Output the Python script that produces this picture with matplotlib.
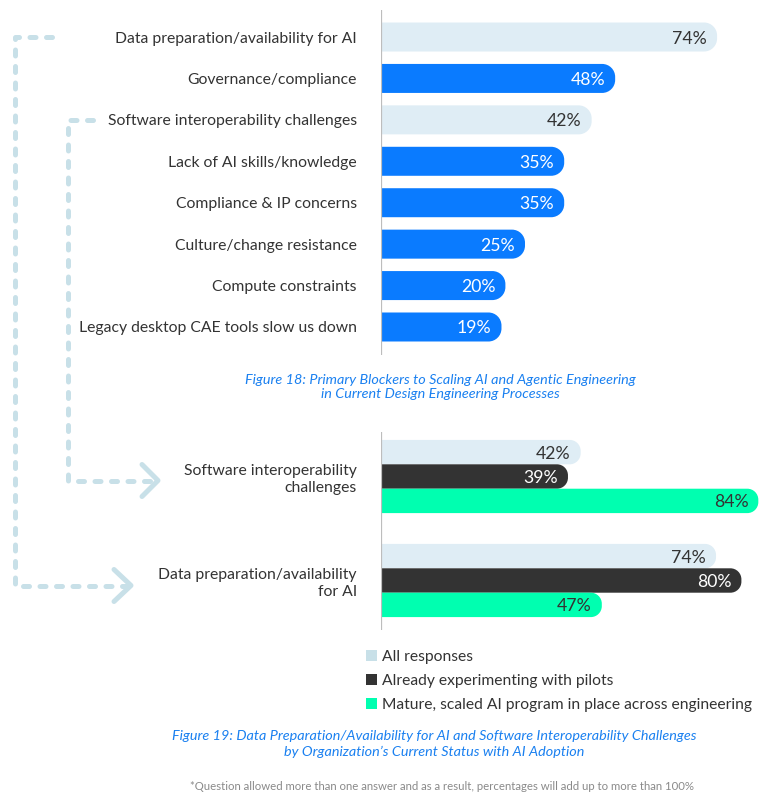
import matplotlib
matplotlib.use('Agg')
import matplotlib.pyplot as plt
from matplotlib.path import Path
from matplotlib.patches import PathPatch, Rectangle

plt.rcParams['font.family'] = ['Lato', 'DejaVu Sans']

# ---------------- data ----------------
blockers = ["Data preparation/availability for AI", "Governance/compliance",
            "Software interoperability challenges", "Lack of AI skills/knowledge",
            "Compliance & IP concerns", "Culture/change resistance",
            "Compute constraints", "Legacy desktop CAE tools slow us down"]
blocker_values = [74, 48, 42, 35, 35, 25, 20, 19]
highlighted = [True, False, True, False, False, False, False, False]

groups = ["Software interoperability\nchallenges", "Data preparation/availability\nfor AI"]
series_names = ["All responses", "Already experimenting with pilots",
                "Mature, scaled AI program in place across engineering"]
all_responses = [42, 74]
pilots = [39, 80]
mature = [84, 47]

# ---------------- style ----------------
LIGHT = '#DFEDF5'
BLUE = '#0A7BFF'
DARK = '#333333'
GREEN = '#00FFB0'
LEG_LIGHT = '#C8E0E8'
CONNECT = '#C8E0E8'
TXT = '#333333'
CAP_BLUE = '#1A80F0'

W, H = 784, 798
fig = plt.figure(figsize=(W / 100, H / 100), dpi=100)


def px_axes(left, top, right, bottom):
    return fig.add_axes([left / W, 1 - bottom / H, (right - left) / W, (bottom - top) / H])


def rounded_bar(ax, y, length, h, color, r_px=12, z=2):
    p0 = ax.transData.transform((0, 0))
    p1 = ax.transData.transform((1, 1))
    sx = abs(p1[0] - p0[0])
    sy = abs(p1[1] - p0[1])
    rx, ry = r_px / sx, r_px / sy
    k = 0.5523
    y0, y1 = y - h / 2, y + h / 2
    L = length
    verts = [(0, y0), (L - rx, y0),
             (L - rx + k * rx, y0), (L, y0 + ry - k * ry), (L, y0 + ry),
             (L, y1 - ry),
             (L, y1 - ry + k * ry), (L - rx + k * rx, y1), (L - rx, y1),
             (0, y1), (0, y0)]
    codes = [Path.MOVETO, Path.LINETO,
             Path.CURVE4, Path.CURVE4, Path.CURVE4,
             Path.LINETO,
             Path.CURVE4, Path.CURVE4, Path.CURVE4,
             Path.LINETO, Path.CLOSEPOLY]
    ax.add_patch(PathPatch(Path(verts, codes), facecolor=color, edgecolor='none', zorder=z))


def clean(ax):
    for s in ax.spines.values():
        s.set_visible(False)
    ax.set_xticks([])
    ax.tick_params(axis='y', length=0, pad=17.3, labelsize=11.3, labelcolor=TXT)
    ax.set_facecolor('none')


# ---------------- top chart ----------------
ax1 = px_axes(381, 10, 770, 355)
ax1.set_xlim(0, 389 / 3.92)
ax1.set_ylim(7.676, -0.652)
extra1 = 46 / 3.92
bh1 = 0.70
for i, (v, hl) in enumerate(zip(blocker_values, highlighted)):
    L = v + extra1
    rounded_bar(ax1, i, L, bh1, LIGHT if hl else BLUE, r_px=13)
    ax1.annotate(f"{v}%", xy=(L, i), xytext=(-10, 0), textcoords='offset pixels',
                 ha='right', va='center_baseline', fontsize=12.7,
                 color=TXT if hl else 'white', zorder=4)
ax1.set_yticks(range(len(blockers)))
ax1.set_yticklabels(blockers)
clean(ax1)
ax1.axvline(0, color='#BDBDBD', lw=1.6, zorder=5)

# ---------------- bottom chart ----------------
ax2 = px_axes(381, 432, 770, 630)
ax2.set_xlim(0, 389 / 4.23)
ax2.set_ylim(1.476, -0.428)
extra2 = 22 / 4.23
bh2 = 0.2346
series = [all_responses, pilots, mature]
colors = [LIGHT, DARK, GREEN]
tcolors = [TXT, 'white', TXT]
for s, (vals, c, tc) in enumerate(zip(series, colors, tcolors)):
    for g, v in enumerate(vals):
        y = g + (s - 1) * bh2
        L = v + extra2
        rounded_bar(ax2, y, L, bh2, c, r_px=11, z=2 + s)
        ax2.annotate(f"{v}%", xy=(L, y), xytext=(-10, 0), textcoords='offset pixels',
                     ha='right', va='center_baseline', fontsize=12.7, color=tc, zorder=6)
ax2.set_yticks(range(len(groups)))
ax2.set_yticklabels(groups, linespacing=1.25)
clean(ax2)
ax2.axvline(0, color='#BDBDBD', lw=1.6, zorder=7)

# ---------------- overlay: connectors, legend, captions ----------------
ov = fig.add_axes([0, 0, 1, 1], zorder=-1)
ov.set_xlim(0, W)
ov.set_ylim(H, 0)
ov.axis('off')
ov.set_facecolor('none')


def row_px(ax, yval):
    return H - ax.transData.transform((0, yval))[1]


dash_kw = dict(color=CONNECT, lw=3.6, linestyle=(0, (1.2, 2.1)),
               dash_capstyle='round', solid_capstyle='round', solid_joinstyle='round')
chev_kw = dict(color=CONNECT, lw=3.6, solid_capstyle='round', solid_joinstyle='round')

y_outer0 = row_px(ax1, 0)
y_inner0 = row_px(ax1, 2)
y_inner1 = row_px(ax2, 0) + 4
y_outer1 = row_px(ax2, 1) + 5

ov.plot([52, 15, 15, 128], [y_outer0, y_outer0, y_outer1, y_outer1], **dash_kw)
ov.plot([114, 131, 114], [y_outer1 - 16, y_outer1, y_outer1 + 16], **chev_kw)
ov.plot([93, 68, 68, 154], [y_inner0, y_inner0, y_inner1, y_inner1], **dash_kw)
ov.plot([142, 158, 142], [y_inner1 - 16, y_inner1, y_inner1 + 16], **chev_kw)

leg_colors = [LEG_LIGHT, DARK, GREEN]
for j, (name, c) in enumerate(zip(series_names, leg_colors)):
    yc = 655 + 24 * j
    ov.add_patch(Rectangle((366, yc - 5.5), 11, 11, facecolor=c, edgecolor='none'))
    ov.text(382, yc, name, ha='left', va='center_baseline', fontsize=11.25, color=TXT)

ov.text(440, 387, "Figure 18: Primary Blockers to Scaling AI and Agentic Engineering\n"
        "in Current Design Engineering Processes", ha='center', va='center',
        fontsize=10.4, style='italic', color=CAP_BLUE, linespacing=1.3)
ov.text(434, 744, "Figure 19: Data Preparation/Availability for AI and Software Interoperability Challenges\n"
        "by Organization\u2019s Current Status with AI Adoption", ha='center', va='center',
        fontsize=10.4, style='italic', color=CAP_BLUE, linespacing=1.3)
ov.text(442, 786, "*Question allowed more than one answer and as a result, percentages will add up to more than 100%",
        ha='center', va='center', fontsize=8.2, color='#8A8A8A')

fig.savefig('out.png', dpi=100, facecolor='white')
